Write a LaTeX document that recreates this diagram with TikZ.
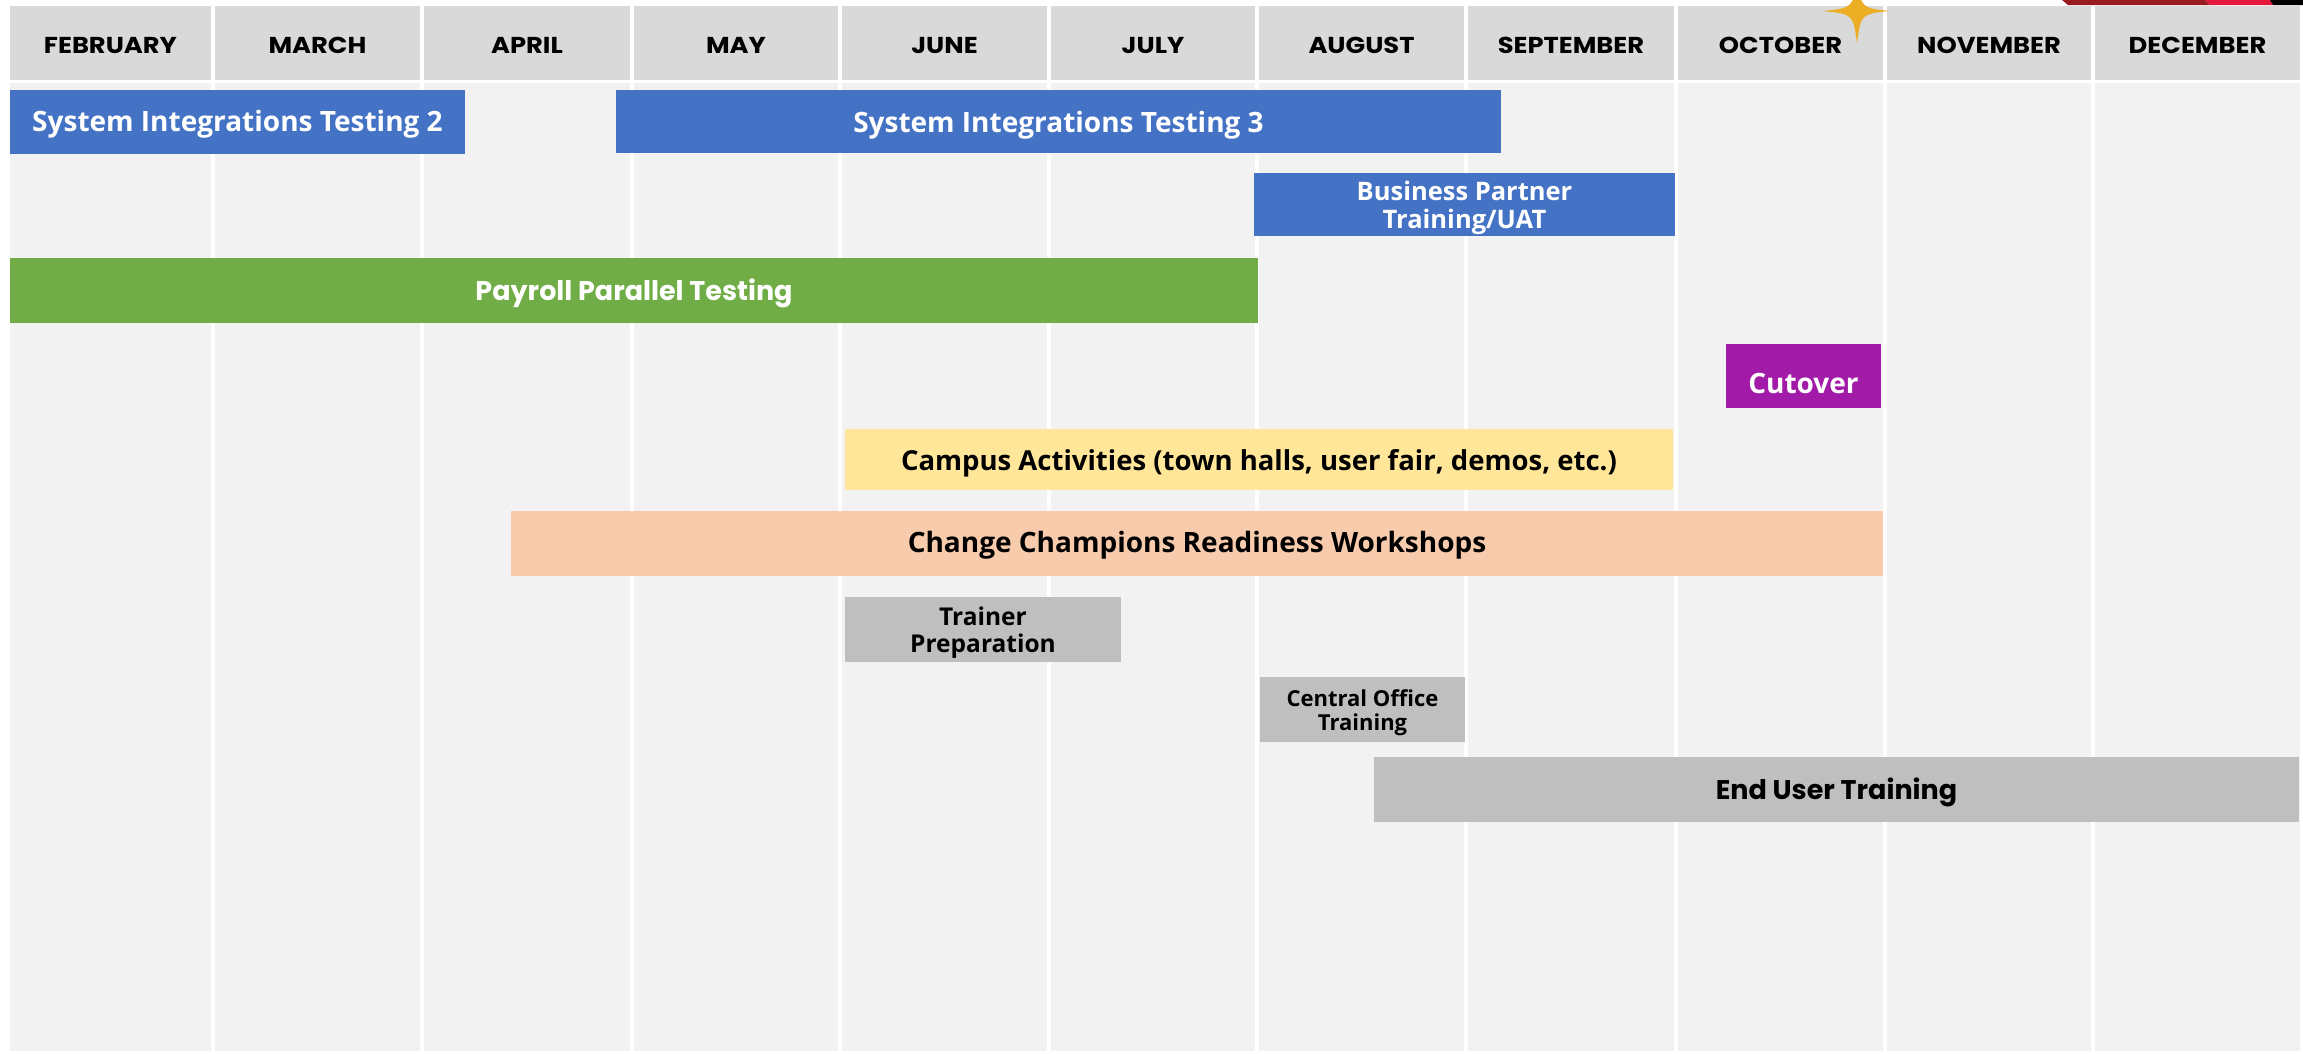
\documentclass[tikz,border=0pt]{standalone}
\usepackage{fontspec}
\setmainfont{Open Sans}
\newfontfamily\hdrfont{Poppins}
\newfontfamily\hdrwide{Poppins}[FakeStretch=1.12]
\definecolor{bgc}{HTML}{F2F2F2}
\definecolor{hdrc}{HTML}{D9D9D9}
\definecolor{blueb}{HTML}{4472C4}
\definecolor{greenb}{HTML}{70AD47}
\definecolor{purpleb}{HTML}{A21BA8}
\definecolor{yellowb}{HTML}{FFE699}
\definecolor{peachb}{HTML}{F8CBAD}
\definecolor{grayb}{HTML}{BFBFBF}
\definecolor{starc}{HTML}{ECAE24}
\definecolor{darkredc}{HTML}{981B1F}
\definecolor{redc}{HTML}{E3173A}
\begin{document}
\begin{tikzpicture}[x=1pt,y=-1pt,
  bar/.style={anchor=north west, inner sep=0pt, outer sep=0pt, align=center},
  one/.style={text height=#1, text depth=0pt},
  hdrcell/.style={anchor=north west, inner sep=0pt, outer sep=0pt, fill=hdrc,
     minimum height=74pt, text height=21.5pt, text depth=0pt,
     font=\hdrwide\bfseries\fontsize{23}{27}\selectfont},
  sep/.style={white, line width=3.5pt}]
\useasboundingbox (0,0) rectangle (2303,1053);
\fill[white] (0,0) rectangle (2303,1053);
% chart background
\fill[bgc] (10,83) rectangle (2300,1051);
\foreach \x in {213,422,632,840,1049,1257,1466,1676,1885,2093}
  \draw[sep] (\x,83) -- (\x,1051);
% top-right strip
\fill[darkredc] (2062,0) -- (2205,0) -- (2210,5) -- (2068,5) -- cycle;
\fill[redc] (2205,0) -- (2270,0) -- (2273,5) -- (2210,5) -- cycle;
\fill[black] (2270,0) -- (2303,0) -- (2303,5) -- (2273,5) -- cycle;
% header
\foreach \l/\r/\n/\t in {10/211/feb/FEBRUARY, 215/420/mar/MARCH, 424/630/apr/APRIL,
   634/838/may/MAY, 842/1047/jun/JUNE, 1051/1255/jul/JULY, 1259/1464/aug/AUGUST,
   1468/1674/sep/SEPTEMBER, 1678/1883/oct/OCTOBER, 1887/2091/nov/NOVEMBER,
   2095/2300/dec/DECEMBER}
  \node[hdrcell, minimum width={(\r-\l)*1pt}] (\n) at (\l,6) {\t};
% star
\begin{scope}
\clip (0,0) rectangle (2303,1053);
\fill[starc] (1822,11) .. controls (1853,8) .. (1857,-22)
  .. controls (1861,8) .. (1890,11) .. controls (1861,14) .. (1857,43)
  .. controls (1853,14) .. (1822,11) -- cycle;
\end{scope}
% bars
\node[bar, one=18pt, fill=blueb, text=white, minimum width=455pt, minimum height=64pt,
  font=\bfseries\fontsize{28}{33}\selectfont] (sit2) at (10,90) {System Integrations Testing 2};
\node[bar, one=21pt, fill=blueb, text=white, minimum width=885pt, minimum height=63pt,
  font=\bfseries\fontsize{28}{33}\selectfont] (sit3) at (616,90) {System Integrations Testing 3};
\node[bar, fill=blueb, text=white, minimum width=421pt, minimum height=63pt,
  font=\bfseries\fontsize{25.5}{28.5}\selectfont] (bp) at (1254,173) {\rule{0pt}{26pt}Business Partner\\Training/UAT};
\node[bar, one=19pt, fill=greenb, text=white, minimum width=1248pt, minimum height=65pt,
  font=\hdrfont\bfseries\fontsize{27}{32}\selectfont] (payroll) at (10,258) {Payroll Parallel Testing};
\node[bar, one=34pt, fill=purpleb, text=white, minimum width=155pt, minimum height=64pt,
  font=\bfseries\fontsize{28}{33}\selectfont] (cutover) at (1726,344) {Cutover};
\node[bar, one=22pt, fill=yellowb, text=black, minimum width=828pt, minimum height=61pt,
  font=\bfseries\fontsize{27.5}{32}\selectfont] (campus) at (845,429) {Campus Activities (town halls, user fair, demos, etc.)};
\node[bar, one=18pt, fill=peachb, text=black, minimum width=1372pt, minimum height=65pt,
  font=\bfseries\fontsize{28}{33}\selectfont] (champ) at (511,511) {Change Champions Readiness Workshops};
\node[bar, fill=grayb, text=black, minimum width=276pt, minimum height=65pt,
  font=\bfseries\fontsize{24.5}{26.5}\selectfont] (trainer) at (845,597) {\rule{0pt}{25pt}Trainer\\Preparation};
\node[bar, fill=grayb, text=black, minimum width=205pt, minimum height=65pt,
  font=\bfseries\fontsize{22}{24}\selectfont] (central) at (1260,677) {\rule{0pt}{24pt}Central Office\\Training};
\node[bar, one=19pt, fill=grayb, text=black, minimum width=925pt, minimum height=65pt,
  font=\hdrfont\bfseries\fontsize{27}{32}\selectfont] (enduser) at (1374,757) {End User Training};
\end{tikzpicture}
\end{document}
